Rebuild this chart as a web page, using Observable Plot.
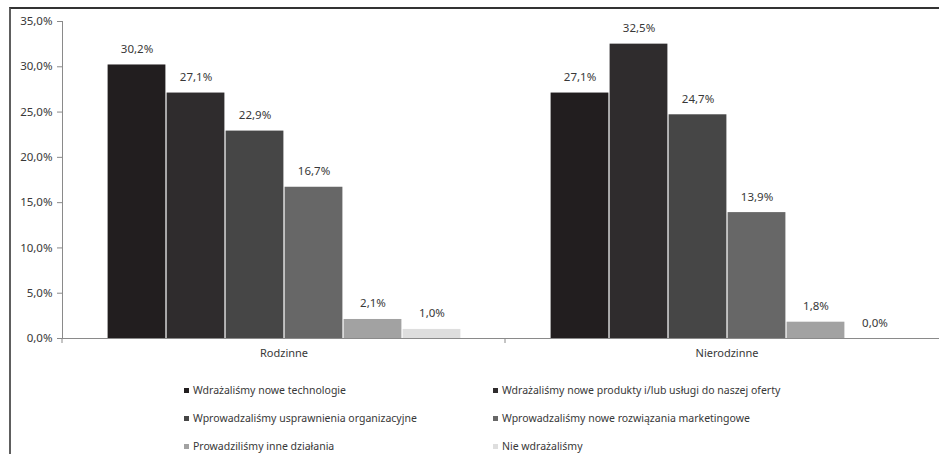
<!DOCTYPE html>
<html>
<head>
<meta charset="utf-8">
<script src="https://cdn.jsdelivr.net/npm/d3@7"></script>
<script src="https://cdn.jsdelivr.net/npm/@observablehq/plot@0.6"></script>
<style>
html, body { margin: 0; padding: 0; background: #fff; overflow: hidden; }
#page { position: relative; width: 939px; height: 454px; overflow: hidden; font-family: "Noto Sans", sans-serif; }
#frame { position: absolute; left: 9px; top: 7px; width: 1000px; height: 500px; border-left: 2px solid #5e5e5e; border-top: 2px solid #333; box-sizing: border-box; }
#chart { position: absolute; left: 0; top: 0; width: 960px; }
#chart svg { max-width: none !important; }
#legend { position: absolute; left: 184px; top: 376px; display: grid; grid-template-columns: 309px auto; grid-auto-rows: 28px; font-size: 10.5px; color: #383838; }
.item { display: flex; align-items: center; white-space: nowrap; }
.sw { width: 5px; height: 5px; margin-right: 4px; flex: none; }
</style>
</head>
<body>
<div id="page">
  <div id="frame"></div>
  <div id="chart"></div>
  <div id="legend"></div>
</div>
<script>
const categories = ["Rodzinne", "Nierodzinne"];
const series = [
  "Wdrażaliśmy nowe technologie",
  "Wdrażaliśmy nowe produkty i/lub usługi do naszej oferty",
  "Wprowadzaliśmy usprawnienia organizacyjne",
  "Wprowadzaliśmy nowe rozwiązania marketingowe",
  "Prowadziliśmy inne działania",
  "Nie wdrażaliśmy"
];
const rodzinne = [30.2, 27.1, 22.9, 16.7, 2.1, 1.0];
const nierodzinne = [27.1, 32.5, 24.7, 13.9, 1.8, 0.0];
const yTicks = [0, 5, 10, 15, 20, 25, 30, 35];
const colors = ["#221e1f", "#2f2c2d", "#464646", "#676767", "#a2a2a2", "#dedede"];

const valuesByCat = {"Rodzinne": rodzinne, "Nierodzinne": nierodzinne};
const table = categories.flatMap(cat => series.map((s, i) => ({cat, series: s, value: valuesByCat[cat][i]})));
const fmt = v => v.toFixed(1).replace(".", ",") + "%";
const font = '"Noto Sans", sans-serif';

const catTick = (index, scales, values, dimensions) => {
  const y0 = scales.y(0);
  const x0 = dimensions.marginLeft;
  const g = d3.create("svg:g");
  g.append("line").attr("x1", x0).attr("x2", x0).attr("y1", y0).attr("y2", y0 + 5)
    .attr("stroke", "#8a8a8a").attr("stroke-width", 1);
  return g.node();
};

const chart = Plot.plot({
  width: 960,
  height: 370,
  marginTop: 21,
  marginBottom: 32,
  marginLeft: 61,
  marginRight: 12,
  style: {fontFamily: font, fontSize: "11px", color: "#383838", background: "transparent", maxWidth: "none"},
  fx: {domain: categories, padding: 0, label: null},
  x: {domain: series, paddingInner: 0, paddingOuter: 0.75, axis: null},
  y: {domain: [0, 35], axis: null},
  color: {domain: series, range: colors},
  marks: [
    Plot.barY(table, {fx: "cat", x: "series", y: "value", fill: "series", insetLeft: 0.6, insetRight: 0.6}),
    Plot.ruleY([0], {stroke: "#8a8a8a"}),
    Plot.frame({anchor: "left", facetAnchor: "left", stroke: "#8a8a8a"}),
    catTick,
    Plot.text(table, {fx: "cat", x: "series", y: "value", text: d => fmt(d.value), lineAnchor: "bottom", dy: -12, fill: "#383838", fontSize: 11.5}),
    Plot.axisY({ticks: yTicks, tickFormat: fmt, tickSize: 5, tickPadding: 5, stroke: "#8a8a8a", fill: "#383838", fontSize: 11.5, label: null}),
    Plot.axisFx({anchor: "bottom", tickSize: 0, tickPadding: 11, fill: "#383838", fontSize: 11, label: null})
  ]
});
document.getElementById("chart").appendChild(chart);

const legend = document.getElementById("legend");
series.forEach((s, i) => {
  const item = document.createElement("div");
  item.className = "item";
  const sw = document.createElement("span");
  sw.className = "sw";
  sw.style.background = colors[i];
  const t = document.createElement("span");
  t.textContent = s;
  item.appendChild(sw);
  item.appendChild(t);
  legend.appendChild(item);
});
</script>
</body>
</html>
